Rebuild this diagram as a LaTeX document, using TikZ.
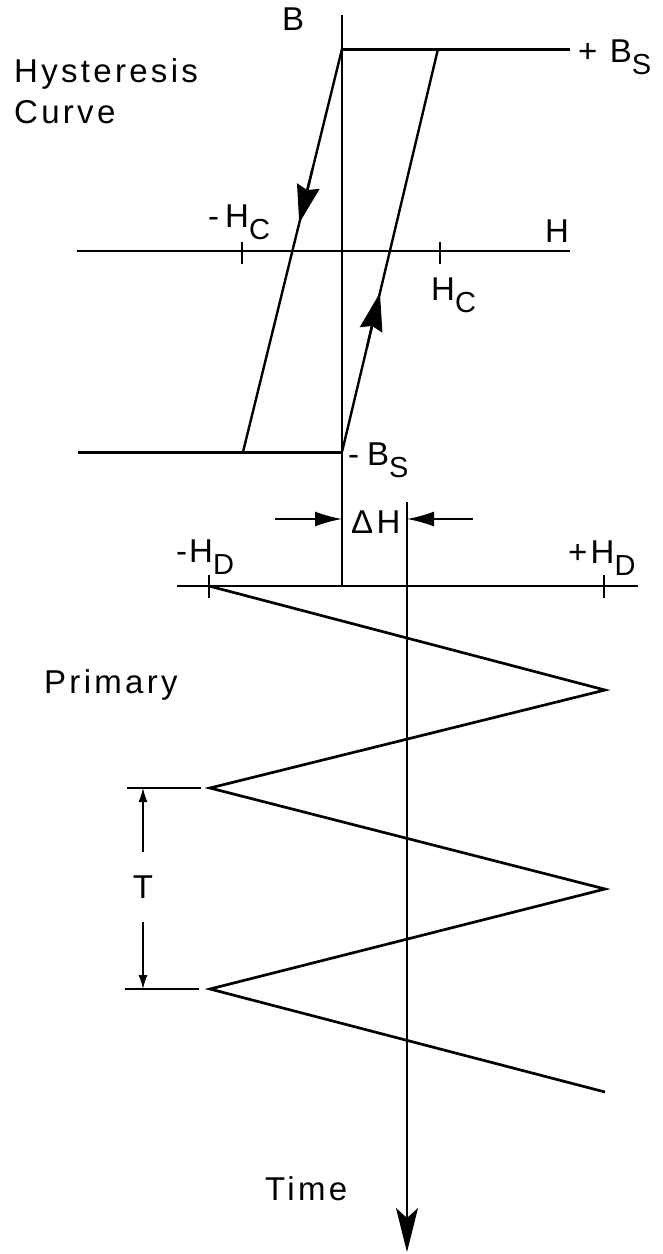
\documentclass[tikz,border=0pt]{standalone}
\usepackage{fontspec}
\setmainfont{Liberation Sans}[LetterSpace=10]
\usetikzlibrary{arrows.meta,calc}
\newcommand{\lowsub}[1]{\raisebox{-12pt}{\fontsize{29}{30}\selectfont #1}}
\begin{document}
\begin{tikzpicture}[x=1pt,y=-1pt,
  lbl/.style={inner sep=0pt, font=\fontsize{33}{38}\selectfont},
  axis/.style={line width=2pt},
  thinax/.style={line width=1.5pt},
  branch/.style={line width=2.4pt},
  sat/.style={line width=3pt},
  wave/.style={line width=2.7pt, line join=miter},
  bigtip/.style={-{Stealth[length=38pt,width=23pt,inset=4pt]}, line width=2.4pt},
  timetip/.style={-{Stealth[length=44pt,width=22pt,inset=10pt]}, line width=1.5pt},
  dhtip/.style={-{Latex[length=27pt,width=15pt]}, line width=1.8pt},
  dimtip/.style={-{Latex[length=14pt,width=9pt]}, line width=1.3pt}]
\useasboundingbox (0,0) rectangle (662,1254);

% ---------- hysteresis curve ----------
\coordinate (Baxtop) at (342,15);
\coordinate (Baxbot) at (342,586);
\coordinate (Ltop) at (342,49);
\coordinate (Lbot) at (243,452);
\coordinate (Rtop) at (438,49);
\coordinate (Rbot) at (342,452);
\coordinate (BSend) at (570,49);
\coordinate (mBSstart) at (78,452);
\coordinate (Hleft) at (77,251);
\coordinate (Hright) at (570,251);

\draw[thinax] (Baxtop) -- (Baxbot);
\draw[axis] (Hleft) -- (Hright);
\draw[axis] (242,242) -- (242,264);
\draw[axis] (440,242) -- (440,264);

\draw[sat] (Ltop) -- (BSend);
\draw[sat] (mBSstart) -- (Rbot);
\draw[branch] (Ltop) -- (Lbot);
\draw[branch] (Rbot) -- (Rtop);

\coordinate (tipL) at ($(Ltop)!0.432!(Lbot)$);
\coordinate (tipLs) at ($(Ltop)!0.30!(Lbot)$);
\coordinate (tipR) at ($(Rbot)!0.395!(Rtop)$);
\coordinate (tipRs) at ($(Rbot)!0.26!(Rtop)$);
\draw[bigtip] (tipLs) -- (tipL);
\draw[bigtip] (tipRs) -- (tipR);

\node[lbl, anchor=base west] (Blbl) at (282,30) {B};
\node[lbl, anchor=base west] (pBS) at (578,62) {+ B\lowsub{S}};
\node[lbl, anchor=base west] (mHC) at (208,227) {-\kern6pt H\lowsub{C}};
\node[lbl, anchor=base west] (Hlbl) at (545,242) {H};
\node[lbl, anchor=base west] (HC) at (431,300) {H\lowsub{C}};
\node[lbl, anchor=base west] (mBS) at (348,465) {-\kern8pt B\lowsub{S}};
\node[lbl, anchor=base west] (Hyst) at (14,82) {Hysteresis};
\node[lbl, anchor=base west] (Curv) at (14,123) {Curve};

% ---------- Delta H ----------
\coordinate (Tax) at (407,502);
\coordinate (Taxend) at (407,1252);
\coordinate (dhL) at (275,519);
\coordinate (dhLtip) at (342,519);
\coordinate (dhR) at (473,519);
\coordinate (dhRtip) at (407,519);
\draw[dhtip] (dhL) -- (dhLtip);
\draw[dhtip] (dhR) -- (dhRtip);
\node[lbl, anchor=base west] (DH) at (351,533) {ΔH};

% ---------- primary drive ----------
\coordinate (HDl) at (177,586);
\coordinate (HDr) at (638,586);
\draw[axis] (HDl) -- (HDr);
\draw[axis] (209,575) -- (209,598);
\draw[axis] (604,575) -- (604,598);
\node[lbl, anchor=base west] (mHD) at (176,562) {-\kern2pt H\lowsub{D}};
\node[lbl, anchor=base west] (pHD) at (568,563) {+H\lowsub{D}};

\draw[timetip] (Tax) -- (Taxend);

\coordinate (w0) at (209,586);
\coordinate (w1) at (605,690);
\coordinate (w2) at (210,788);
\coordinate (w3) at (605,889);
\coordinate (w4) at (210,989);
\coordinate (w5) at (605,1092);
\draw[wave] (w0) -- (w1) -- (w2) -- (w3) -- (w4) -- (w5);

% period T
\coordinate (Ttop) at (143,788);
\coordinate (Tbot) at (143,989);
\draw[line width=1.8pt] (127,788) -- (201,788);
\draw[line width=1.8pt] (125,989) -- (199,989);
\node[lbl, minimum height=70pt] (Tl) at (143,887) {T};
\draw[dimtip] (Tl) -- (Ttop);
\draw[dimtip] (Tl) -- (Tbot);

\node[lbl, anchor=base west] (Prim) at (44,693) {Primary};
\node[lbl, anchor=base west] (Time) at (265,1200) {Time};
\end{tikzpicture}
\end{document}
